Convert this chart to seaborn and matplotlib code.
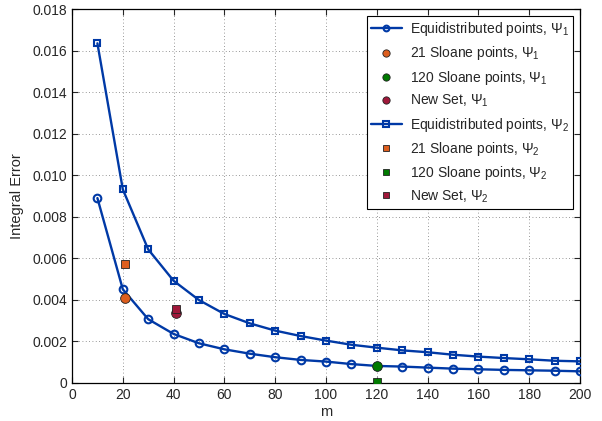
import numpy as np
import pandas as pd
import matplotlib
matplotlib.use("Agg")
import matplotlib.pyplot as plt
import seaborn as sns

m = [10, 20, 30, 40, 50, 60, 70, 80, 90, 100, 110, 120, 130, 140, 150, 160, 170, 180, 190, 200]
psi1_equi = [0.0089, 0.00451, 0.00307, 0.00236, 0.00191, 0.00162, 0.00141, 0.00124, 0.00111, 0.00103,
             0.00091, 0.00082, 0.00079, 0.00074, 0.00069, 0.00066, 0.00063, 0.00061, 0.00059, 0.00056]
psi2_equi = [0.01635, 0.00932, 0.00643, 0.00492, 0.00399, 0.00332, 0.00287, 0.00252, 0.00226, 0.00204,
             0.00184, 0.0017, 0.00157, 0.00148, 0.00136, 0.00127, 0.0012, 0.00114, 0.00107, 0.00104]
sloane21_m, sloane21_psi1, sloane21_psi2 = 21, 0.00409, 0.00573
sloane120_m, sloane120_psi1, sloane120_psi2 = 120, 0.00080, 0.00004
newset_m, newset_psi1, newset_psi2 = 41, 0.00335, 0.00355

blue = "#0039A6"
orange = "#DD5E1E"
green = "#007A00"
darkred = "#A0183A"

sns.set_style("ticks")
plt.rcParams['font.family'] = ['Liberation Sans', 'DejaVu Sans']
plt.rcParams['mathtext.fontset'] = 'custom'
plt.rcParams['mathtext.rm'] = 'Liberation Sans'
plt.rcParams['mathtext.it'] = 'Liberation Sans'

fig = plt.figure(figsize=(6.02, 4.21), dpi=100)
ax = fig.add_axes([0.1196, 0.0903, 0.8439, 0.8883])

df = pd.DataFrame({"m": m, "psi1": psi1_equi, "psi2": psi2_equi})

sns.lineplot(data=df, x="m", y="psi1", ax=ax, color=blue, lw=1.7, marker="o", markersize=5.5,
             markerfacecolor="none", markeredgecolor=blue, markeredgewidth=1.5,
             label=r"Equidistributed points, $\Psi_1$", zorder=3)
ax.plot([sloane21_m], [sloane21_psi1], "o", color=orange, mec="#222222", mew=0.6, ms=7,
        ls="none", label=r"21 Sloane points, $\Psi_1$", zorder=4)
ax.plot([sloane120_m], [sloane120_psi1], "o", color=green, mec="#222222", mew=0.6, ms=7,
        ls="none", label=r"120 Sloane points, $\Psi_1$", zorder=4)
ax.plot([newset_m], [newset_psi1], "o", color=darkred, mec="#222222", mew=0.6, ms=7,
        ls="none", label=r"New Set, $\Psi_1$", zorder=4)
sns.lineplot(data=df, x="m", y="psi2", ax=ax, color=blue, lw=1.7, marker="s", markersize=5,
             markerfacecolor="none", markeredgecolor=blue, markeredgewidth=1.5,
             label=r"Equidistributed points, $\Psi_2$", zorder=3)
ax.plot([sloane21_m], [sloane21_psi2], "s", color=orange, mec="#222222", mew=0.6, ms=5.5,
        ls="none", label=r"21 Sloane points, $\Psi_2$", zorder=4)
ax.plot([sloane120_m], [sloane120_psi2], "s", color=green, mec="#222222", mew=0.6, ms=5.5,
        ls="none", label=r"120 Sloane points, $\Psi_2$", zorder=4)
ax.plot([newset_m], [newset_psi2], "s", color=darkred, mec="#222222", mew=0.6, ms=5.5,
        ls="none", label=r"New Set, $\Psi_2$", zorder=4)

ax.set_xlim(0, 200)
ax.set_ylim(0, 0.018)
ax.set_xticks(np.arange(0, 201, 20))
ax.set_yticks(np.arange(0, 0.0181, 0.002))
ax.set_yticklabels(["0"] + [f"{v:.3f}" for v in np.arange(0.002, 0.0181, 0.002)])
ax.set_xlabel("m", fontsize=10.5, labelpad=2)
ax.set_ylabel("Integral Error", fontsize=10.5, labelpad=6)
ax.tick_params(direction="in", top=True, right=True, labelsize=10, length=4, width=0.8)
ax.grid(True, linestyle=(0, (1, 3)), color="#777777", linewidth=0.6)
for s in ax.spines.values():
    s.set_visible(True)
    s.set_color("black")
    s.set_linewidth(0.9)

leg = ax.legend(loc="upper right", fontsize=10, frameon=True, fancybox=False, framealpha=1,
                edgecolor="black", borderpad=0.3, labelspacing=0.45, handlelength=2.2,
                handletextpad=0.6, borderaxespad=0.5, markerscale=0.75)
leg.get_frame().set_linewidth(0.8)

fig.savefig("out.png", dpi=100)
